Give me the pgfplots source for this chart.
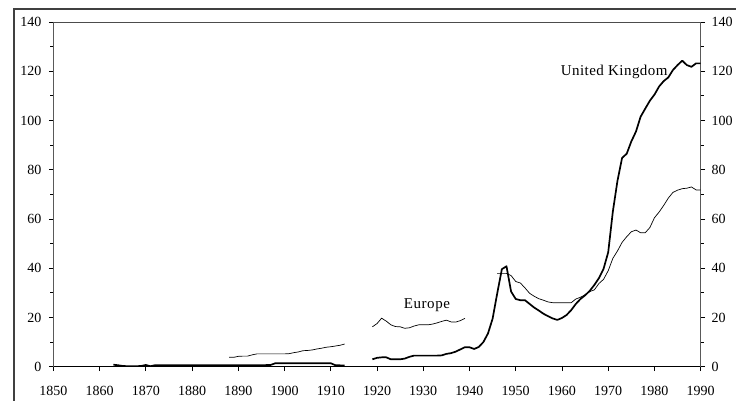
\documentclass[border=0pt]{standalone}
\usepackage{fontspec}
\setmainfont{Liberation Serif}
\usepackage{pgfplots}
\pgfplotsset{compat=1.18}
\begin{document}
\begin{tikzpicture}
\useasboundingbox (-53.3pt,-34.3pt) rectangle (682.7pt,366.7pt);
\draw[line width=2pt, color=black!75] (-39.3pt,-40pt) -- (-39.3pt,357.7pt) -- (700pt,357.7pt);
\pgfplotsset{every axis/.append style={
  scale only axis, width=647.4pt, height=344.7pt,
  at={(0pt,0pt)}, anchor=south west,
  xmin=1850, xmax=1990, ymin=0, ymax=140,
  axis line style={draw=none},
  tick align=outside,
  major tick length=4.5pt, minor tick length=3pt,
  every tick/.style={black, line width=0.8pt},
  /pgf/number format/assume math mode=true,
  tick label style={font=\fontsize{14}{16}\selectfont},
  ytick={0,20,...,140}, minor y tick num=1,
  xtick={1850,1860,...,1990},
  x tick label style={/pgf/number format/1000 sep={}},
}}
\begin{axis}[
  xtick pos=bottom, ytick pos=left,
  y tick label style={xshift=-4pt},
  x tick label style={yshift=-11pt},
]
\addplot[black, line width=0.7pt] coordinates {
(1888,3.8)(1889,3.8)(1890,4.2)(1891,4.3)(1892,4.3)(1893,4.8)(1894,5.2)(1895,5.2)(1896,5.2)(1897,5.2)(1898,5.2)(1899,5.2)(1900,5.2)(1901,5.3)(1902,5.7)(1903,6.0)(1904,6.5)(1905,6.6)(1906,6.8)(1907,7.2)(1908,7.5)(1909,7.9)(1910,8.1)(1911,8.4)(1912,8.7)(1913,9.2)};
\addplot[black, line width=0.7pt] coordinates {
(1919,16.2)(1920,17.5)(1921,19.7)(1922,18.5)(1923,17.0)(1924,16.3)(1925,16.2)(1926,15.6)(1927,15.8)(1928,16.5)(1929,17.0)(1930,17.0)(1931,17.0)(1932,17.3)(1933,17.8)(1934,18.4)(1935,18.9)(1936,18.2)(1937,18.1)(1938,18.7)(1939,19.6)};
\addplot[black, line width=0.7pt] coordinates {
(1946,37.9)(1947,37.9)(1948,37.9)(1949,37.0)(1950,34.6)(1951,34.0)(1952,32.0)(1953,29.8)(1954,28.6)(1955,27.6)(1956,27.0)(1957,26.3)(1958,26.0)(1959,26.0)(1960,26.0)(1961,26.0)(1962,26.0)(1963,27.5)(1964,28.2)(1965,29.2)(1966,30.5)(1967,31.2)(1968,33.8)(1969,35.5)(1970,39.0)(1971,44.0)(1972,47.0)(1973,50.5)(1974,52.8)(1975,54.8)(1976,55.5)(1977,54.4)(1978,54.4)(1979,56.5)(1980,60.5)(1981,62.8)(1982,65.5)(1983,68.5)(1984,70.8)(1985,71.7)(1986,72.3)(1987,72.5)(1988,73.0)(1989,71.8)(1990,71.8)};
\addplot[black, line width=1.7pt, line join=round] coordinates {
(1863,0.8)(1864,0.6)(1865,0.3)(1866,0.2)(1867,0.2)(1868,0.2)(1869,0.3)(1870,0.7)(1871,0.2)(1872,0.6)(1875,0.6)(1880,0.6)(1885,0.6)(1890,0.6)(1895,0.6)(1897,0.7)(1898,1.4)(1905,1.4)(1910,1.4)(1911,0.6)(1913,0.5)};
\addplot[black, line width=1.7pt, line join=round] coordinates {
(1919,3.0)(1920,3.6)(1921,3.8)(1922,3.8)(1923,3.0)(1924,3.0)(1925,3.0)(1926,3.3)(1927,4.0)(1928,4.5)(1929,4.5)(1930,4.5)(1931,4.5)(1932,4.5)(1933,4.5)(1934,4.6)(1935,5.2)(1936,5.5)(1937,6.1)(1938,7.0)(1939,7.9)(1940,7.9)(1941,7.2)(1942,8.0)(1943,10.0)(1944,13.5)(1945,19.5)(1946,29.8)(1947,39.6)(1948,40.8)(1949,30.5)(1950,27.5)(1951,27.0)(1952,27.0)(1953,25.5)(1954,24.0)(1955,22.8)(1956,21.5)(1957,20.5)(1958,19.6)(1959,19.0)(1960,19.8)(1961,21.0)(1962,23.0)(1963,25.5)(1964,27.5)(1965,29.0)(1966,30.8)(1967,33.2)(1968,36.0)(1969,39.8)(1970,46.5)(1971,63.0)(1972,75.5)(1973,84.8)(1974,86.5)(1975,91.5)(1976,95.5)(1977,101.5)(1978,104.8)(1979,108.0)(1980,110.5)(1981,113.8)(1982,116.0)(1983,117.5)(1984,120.5)(1985,122.5)(1986,124.3)(1987,122.5)(1988,121.8)(1989,123.2)(1990,123.2)};
\node[anchor=base, font=\fontsize{15}{17}\selectfont\addfontfeatures{LetterSpace=4}] at (axis cs:1930.8,23.8) {Europe};
\node[anchor=base, font=\fontsize{15}{17}\selectfont\addfontfeatures{LetterSpace=3}, inner sep=0pt] at (axis cs:1971.3,118.1) {United Kingdom};
\draw[black, line width=0.8pt] (rel axis cs:0,1) -- (rel axis cs:0,0) -- (rel axis cs:1,0) -- (rel axis cs:1,1);
\draw[black!70, line width=0.6pt] (rel axis cs:0,1) -- (rel axis cs:1,1);
\end{axis}
\begin{axis}[
  xtick=\empty, ytick pos=right, yticklabel pos=right,
  y tick label style={xshift=3pt},
]
\end{axis}
\end{tikzpicture}
\end{document}
